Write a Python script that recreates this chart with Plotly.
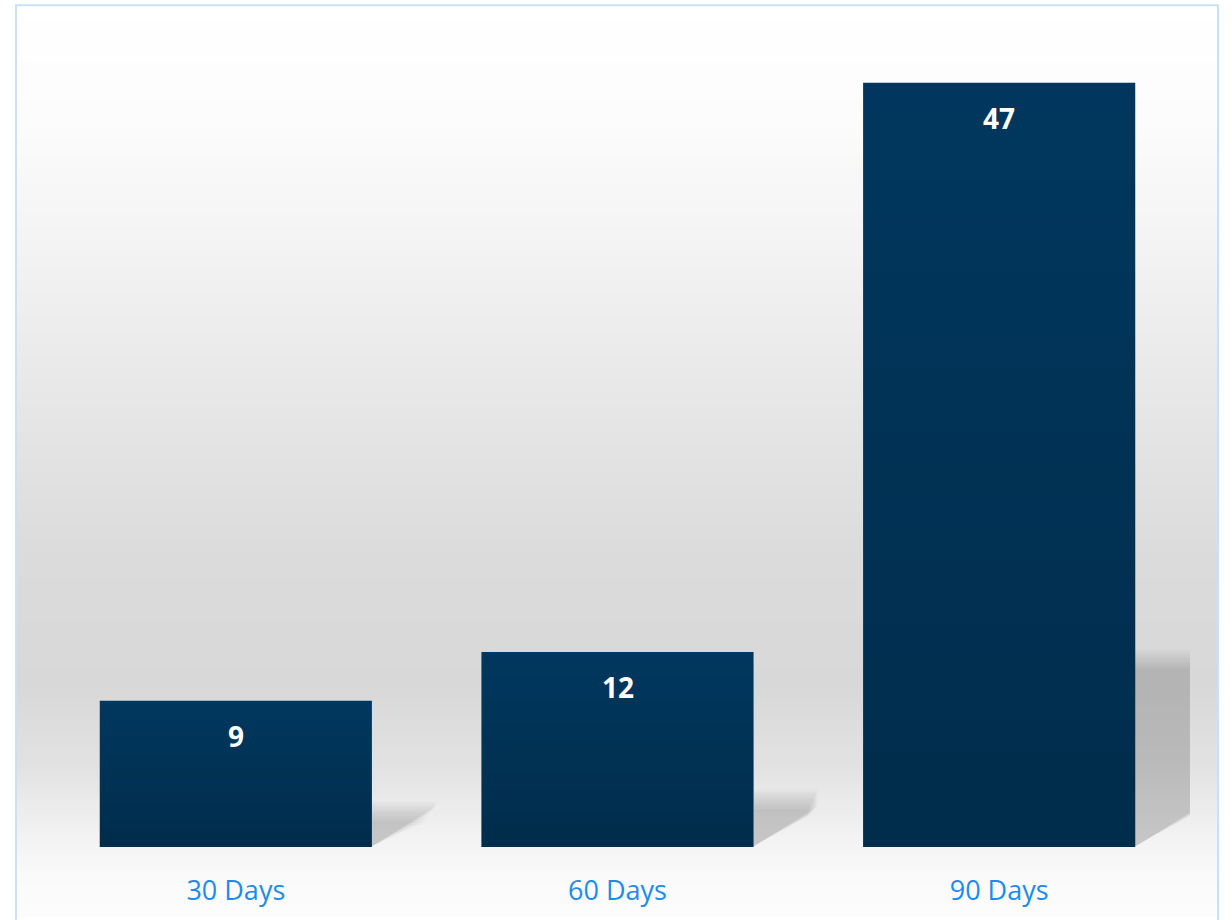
import plotly.graph_objects as go

categories = ["30 Days", "60 Days", "90 Days"]
values = [9, 12, 47]
bar_color = "#02385F"
label_color = "#1E8BEA"
frame_color = "#C6E2FA"

W, H = 1232, 920
ml, mr, mt, mb = 45, 42, 34, 69
pw = W - ml - mr
ph = H - mt - mb
ymax = 50
bar_w = 0.713
x_idx = list(range(len(categories)))


def py2paper(py):
    return (H - mb - py) / ph


def px2paper(px):
    return (px - ml) / pw


fig = go.Figure(
    go.Bar(
        x=x_idx,
        y=values,
        width=bar_w,
        marker=dict(color=bar_color, line=dict(width=0)),
        hoverinfo="skip",
    )
)

shapes = []
# background gradient (white -> light gray -> white)
stops = [
    (0, 255), (120, 252), (250, 243), (400, 231), (560, 219),
    (690, 216), (770, 226), (830, 240), (880, 250), (920, 252),
]


def gray_at(py):
    for (a, ca), (b, cb) in zip(stops[:-1], stops[1:]):
        if a <= py <= b:
            t = (py - a) / (b - a)
            return round(ca + (cb - ca) * t)
    return stops[-1][1]


step = 4
for py in range(5, 920, step):
    g = gray_at(py + step / 2)
    shapes.append(dict(
        type="rect", xref="paper", yref="paper", layer="below",
        x0=px2paper(16), x1=px2paper(1218),
        y0=py2paper(py + step + 1), y1=py2paper(py),
        fillcolor=f"rgb({g},{g},{g})", line=dict(width=0),
    ))

# soft shadows to the right of each bar (layered for a blurred edge)
n_layers = 9
for i, v in zip(x_idx, values):
    xr = i + bar_w / 2
    h0 = 0.245 * v
    for k in range(n_layers):
        s = (k - (n_layers - 1) / 2) / ((n_layers - 1) / 2)  # -1..1
        h = h0 + s * 0.6
        dx = 0.155 + s * 0.012
        d = min(2.2 + s * 0.3, h)
        path = f"M {xr},0.05 L {xr + dx},{d} L {xr + dx},{h} L {xr},{h} Z"
        shapes.append(dict(
            type="path", xref="x", yref="y", layer="below", path=path,
            fillcolor="rgb(110,110,110)", opacity=0.045, line=dict(width=0),
        ))

# subtle vertical shading on each bar (darker toward the base)
n_slices = 24
for i, v in zip(x_idx, values):
    for k in range(n_slices):
        y1 = v * (1 - k / n_slices)
        y0 = v * (1 - (k + 1) / n_slices)
        shapes.append(dict(
            type="rect", xref="x", yref="y", layer="above",
            x0=i - bar_w / 2, x1=i + bar_w / 2, y0=y0, y1=y1,
            fillcolor="black", opacity=0.2 * (k + 0.5) / n_slices,
            line=dict(width=0),
        ))

# outer frame
shapes.append(dict(
    type="rect", xref="paper", yref="paper", layer="above",
    x0=px2paper(16), x1=px2paper(1218), y0=py2paper(935), y1=py2paper(5),
    fillcolor="rgba(0,0,0,0)", line=dict(color=frame_color, width=2),
))

annotations = []
for i, v in zip(x_idx, values):
    annotations.append(dict(
        x=i, y=v, xref="x", yref="y", yshift=-35, showarrow=False,
        text=f"<b>{v}</b>", yanchor="middle",
        font=dict(family="Open Sans", size=28, color="white"),
    ))

fig.update_layout(
    width=W, height=H,
    margin=dict(l=ml, r=mr, t=mt, b=mb),
    paper_bgcolor="white",
    plot_bgcolor="rgba(0,0,0,0)",
    shapes=shapes,
    annotations=annotations,
    showlegend=False,
    xaxis=dict(
        range=[-0.5, 2.5], tickvals=x_idx, ticktext=categories,
        showgrid=False, zeroline=False, showline=False,
        ticks="outside", ticklen=20, tickcolor="rgba(0,0,0,0)",
        tickfont=dict(family="Open Sans", size=27, color=label_color),
        fixedrange=True,
    ),
    yaxis=dict(range=[0, ymax], visible=False, fixedrange=True),
)

fig.write_html("out.html")
